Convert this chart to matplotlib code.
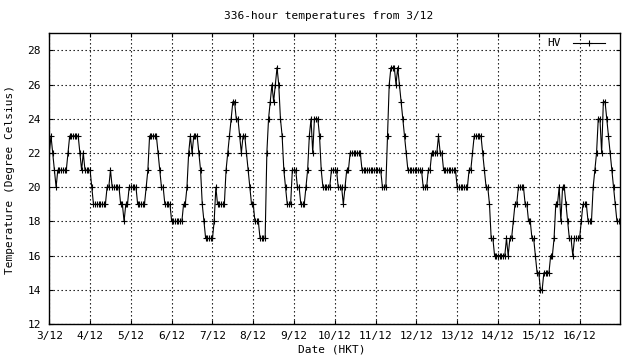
import numpy as np
import matplotlib
matplotlib.use("Agg")
import matplotlib.pyplot as plt

# hourly temperatures (deg C), one list per day starting 3/12 00:00 HKT
day_03 = [22, 23, 22, 21, 20, 21, 21, 21, 21, 21, 21, 22, 23, 23, 23, 23, 23, 23, 22, 21, 22, 21, 21, 21]
day_04 = [21, 20, 19, 19, 19, 19, 19, 19, 19, 19, 20, 20, 21, 20, 20, 20, 20, 20, 19, 19, 18, 19, 19, 20]
day_05 = [20, 20, 20, 20, 19, 19, 19, 19, 19, 20, 21, 23, 23, 23, 23, 23, 22, 21, 20, 20, 19, 19, 19, 19]
day_06 = [18, 18, 18, 18, 18, 18, 18, 19, 19, 20, 22, 23, 22, 23, 23, 23, 22, 21, 19, 18, 17, 17, 17, 17]
day_07 = [17, 18, 20, 19, 19, 19, 19, 19, 21, 22, 23, 24, 25, 25, 24, 24, 23, 22, 23, 23, 22, 21, 20, 19]
day_08 = [19, 18, 18, 18, 17, 17, 17, 17, 22, 24, 25, 26, 25, 26, 27, 26, 24, 23, 21, 20, 19, 19, 19, 21]
day_09 = [21, 21, 20, 20, 19, 19, 19, 20, 21, 23, 24, 22, 24, 24, 24, 23, 21, 20, 20, 20, 20, 20, 21, 21]
day_10 = [21, 21, 20, 20, 20, 19, 20, 21, 21, 22, 22, 22, 22, 22, 22, 22, 21, 21, 21, 21, 21, 21, 21, 21]
day_11 = [21, 21, 21, 21, 20, 20, 20, 23, 26, 27, 27, 27, 26, 27, 26, 25, 24, 23, 22, 21, 21, 21, 21, 21]
day_12 = [21, 21, 21, 21, 20, 20, 20, 21, 21, 22, 22, 22, 22, 23, 22, 22, 21, 21, 21, 21, 21, 21, 21, 21]
day_13 = [20, 20, 20, 20, 20, 20, 20, 21, 21, 22, 23, 23, 23, 23, 23, 22, 21, 20, 20, 19, 17, 17, 16, 16]
day_14 = [16, 16, 16, 16, 16, 17, 16, 17, 17, 18, 19, 19, 20, 20, 20, 20, 19, 19, 18, 18, 17, 17, 16, 15]
day_15 = [15, 14, 14, 15, 15, 15, 15, 16, 16, 17, 19, 19, 20, 18, 20, 20, 19, 18, 17, 17, 16, 17, 17, 17]
day_16 = [17, 18, 19, 19, 19, 18, 18, 18, 20, 21, 22, 24, 24, 22, 25, 25, 24, 23, 22, 21, 20, 19, 18, 18]

date_labels = ["3/12", "4/12", "5/12", "6/12", "7/12", "8/12", "9/12",
               "10/12", "11/12", "12/12", "13/12", "14/12", "15/12", "16/12"]
y_ticks = [12, 14, 16, 18, 20, 22, 24, 26, 28]

temps = (day_03 + day_04 + day_05 + day_06 + day_07 + day_08 + day_09
         + day_10 + day_11 + day_12 + day_13 + day_14 + day_15 + day_16)
hours = np.arange(len(temps))

plt.rcParams["font.family"] = "DejaVu Sans Mono"
plt.rcParams["font.size"] = 8

fig = plt.figure(figsize=(6.4, 3.6), dpi=100)
# plot box in pixels: x 49.3..619.5, y 33.3..324
ax = fig.add_axes([49.3 / 640, 1 - 324 / 360, 570.2 / 640, 290.7 / 360])

ax.plot(hours, temps, color="black", linewidth=0.8, marker="+",
        markersize=5, markeredgewidth=0.8, label="HV")

ax.set_xlim(0, 335.5)
ax.set_ylim(12, 29)
ax.set_xticks(np.arange(len(date_labels)) * 24)
ax.set_xticklabels(date_labels)
ax.set_yticks(y_ticks)

ax.grid(True, color="black", linewidth=0.8, linestyle=(0, (1.2, 2.4)))
ax.tick_params(direction="in", length=3, width=0.8, top=True, right=True,
               labelsize=8)
ax.tick_params(axis="x", pad=5)
ax.tick_params(axis="y", pad=6)
for s in ax.spines.values():
    s.set_linewidth(1.0)

ax.legend(loc="upper right", frameon=False, markerfirst=False,
          bbox_to_anchor=(605 / 640, 1 - 38.5 / 360),
          bbox_transform=fig.transFigure, borderpad=0, borderaxespad=0,
          handlelength=2.9, handletextpad=1.1, fontsize=8)

fig.text(328.5 / 640, 1 - 16 / 360, "336-hour temperatures from 3/12",
         ha="center", va="center")
fig.text(332 / 640, 1 - 350 / 360, "Date (HKT)", ha="center", va="center")
fig.text(10 / 640, 1 - 180 / 360, "Temperature (Degree Celsius)",
         ha="center", va="center", rotation=90)

fig.savefig("out.png", dpi=100, facecolor="white")
